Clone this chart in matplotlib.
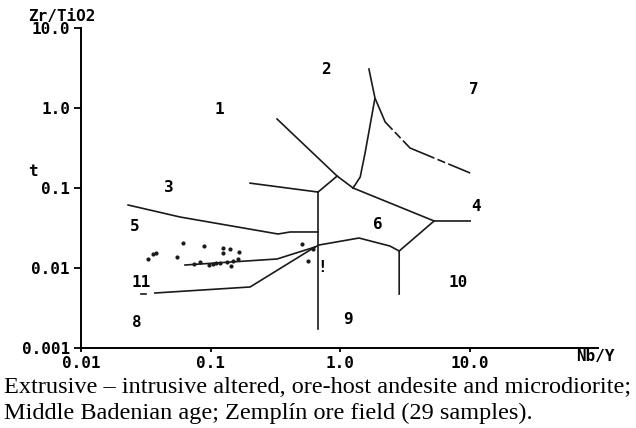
"""
Zr/TiO2 vs Nb/Y classification diagram (Winchester & Floyd)
"""
import matplotlib.pyplot as plt

# field boundaries, (Nb/Y, Zr/TiO2)
line_a_x = [0.326, 0.949, 1.26]
line_a_y = [0.729, 0.141, 0.100]
line_b_x = [0.949, 0.676]
line_b_y = [0.141, 0.089]
line_c_x = [0.202, 0.676]
line_c_y = [0.115, 0.089]
line_d_x = [0.676, 0.676]
line_d_y = [0.089, 0.00173]
line_e_x = [1.26, 5.32, 10.1]
line_e_y = [0.100, 0.0387, 0.0387]
line_f_x = [1.26, 1.43, 1.56, 1.86, 1.67]
line_f_y = [0.100, 0.137, 0.274, 1.33, 3.07]
line_g_x = [1.86, 2.23, 3.47, 10.1]
line_g_y = [1.33, 0.668, 0.316, 0.154]
line_h_x = [5.32, 2.86, 2.86]
line_h_y = [0.0387, 0.0163, 0.00473]
line_i_x = [2.86, 2.43, 1.40, 0.69, 0.641]
line_i_y = [0.0163, 0.0188, 0.0237, 0.0194, 0.0183]
line_j_x = [0.641, 0.326, 0.0635]
line_j_y = [0.0183, 0.01296, 0.0109]
line_k_x = [0.63, 0.202, 0.0372]
line_k_y = [0.0180, 0.00579, 0.00487]
line_l_x = [0.0231, 0.0581, 0.332, 0.411, 0.676]
line_l_y = [0.0613, 0.0434, 0.0266, 0.0282, 0.0282]

# field numbers
field_names = ["1", "2", "3", "4", "5", "6", "7", "8", "9", "10", "11"]
field_x = [0.116, 0.78, 0.0479, 11.2, 0.0261, 1.96, 10.8, 0.0270, 1.15, 8.15, 0.0290]
field_y = [0.97, 2.99, 0.100, 0.0579, 0.0326, 0.0345, 1.68, 0.00211, 0.00224, 0.0065, 0.0065]

# samples
nb_y = [0.0614, 0.0891, 0.125, 0.125, 0.1415, 0.166, 0.0551, 0.0329, 0.036, 0.0378,
        0.083, 0.0973, 0.144, 0.163, 0.509, 0.566, 0.62, 0.110, 0.118, 0.135,
        0.150, 0.105, 0.075]
zr_ti = [0.0205, 0.0188, 0.0178, 0.0154, 0.0173, 0.0158, 0.0137, 0.0130, 0.0150, 0.0153,
         0.0119, 0.0109, 0.0106, 0.0130, 0.0200, 0.0122, 0.0173, 0.0114, 0.0117, 0.0120,
         0.0123, 0.0113, 0.0112]

x_ticks = [0.01, 0.1, 1.0, 10.0]
x_labels = ["0.01", "0.1", "1.0", "10.0"]
y_ticks = [0.001, 0.01, 0.1, 1.0, 10.0]
y_labels = ["0.001", "0.01", "0.1", "1.0", "10.0"]

caption = ["Extrusive \u2013 intrusive altered, ore-host andesite and microdiorite;",
           "Middle Badenian age; Zempl\u00edn ore field (29 samples)."]

if __name__ == "__main__":
    mono = {"family": "DejaVu Sans Mono", "weight": "bold", "size": 11.5}
    ink = "#1a1a1a"

    fig = plt.figure(figsize=(6.36, 4.28), dpi=100)
    ax = fig.add_axes([81 / 636, 1 - 348 / 428, 517 / 636, 320 / 428])
    ax.set_xscale("log")
    ax.set_yscale("log")
    ax.set_xlim(0.01, 98)
    ax.set_ylim(0.001, 10)

    lw = 1.2
    for lx, ly in [(line_a_x, line_a_y), (line_b_x, line_b_y), (line_c_x, line_c_y),
                   (line_d_x, line_d_y), (line_e_x, line_e_y), (line_f_x, line_f_y),
                   (line_h_x, line_h_y), (line_i_x, line_i_y), (line_j_x, line_j_y),
                   (line_k_x, line_k_y), (line_l_x, line_l_y)]:
        ax.plot(lx, ly, color=ink, lw=lw, solid_joinstyle="miter")
    ax.plot(line_g_x, line_g_y, color=ink, lw=lw, linestyle=(0, (22, 2, 5, 2)))
    ax.plot([0.0290, 0.0315], [0.00475, 0.00475], color=ink, lw=lw)

    ax.scatter(nb_y, zr_ti, s=4, color=ink, zorder=3)
    ax.text(0.73, 0.0100, "!", fontdict=mono, ha="center", va="center")

    for name, fx, fy in zip(field_names, field_x, field_y):
        ax.text(fx, fy, name, fontdict=mono, ha="center", va="center")

    ax.spines["top"].set_visible(False)
    ax.spines["right"].set_visible(False)
    ax.spines["left"].set_linewidth(1.4)
    ax.spines["bottom"].set_linewidth(1.4)
    ax.minorticks_off()
    ax.set_xticks(x_ticks)
    ax.set_xticklabels(x_labels, fontdict=mono)
    ax.set_yticks(y_ticks)
    ax.set_yticklabels(y_labels, fontdict=mono)
    ax.tick_params(axis="y", direction="out", length=5, width=1.3, pad=3)
    ax.tick_params(axis="x", direction="out", length=3, width=1.3, pad=3)

    fig.text(62 / 636, 1 - 16 / 428, "Zr/TiO2", fontdict=mono, ha="center", va="center")
    fig.text(33 / 636, 1 - 171 / 428, "t", fontdict=mono, ha="center", va="center")
    fig.text(595 / 636, 1 - 357 / 428, "Nb/Y", fontdict=mono, ha="center", va="center")

    fig.text(4 / 636, 1 - 393 / 428, caption[0], family="Liberation Serif", size=17.5,
             ha="left", va="baseline")
    fig.text(4 / 636, 1 - 419 / 428, caption[1], family="Liberation Serif", size=17.5,
             ha="left", va="baseline")

    plt.savefig("out.png", dpi=100)
